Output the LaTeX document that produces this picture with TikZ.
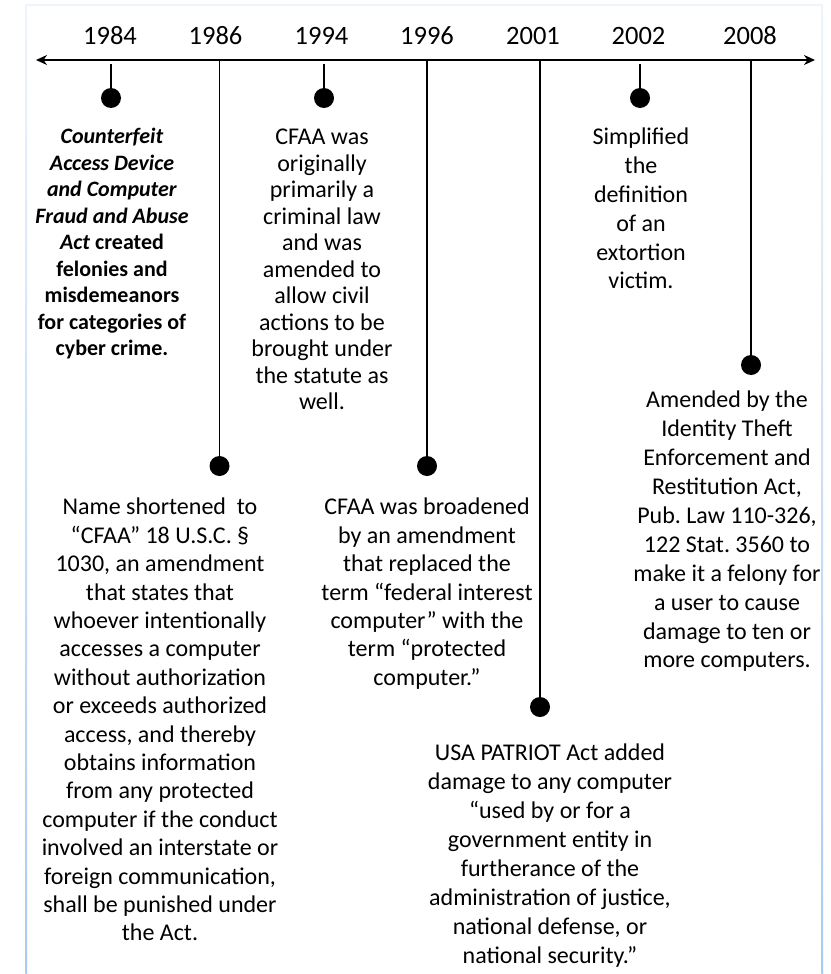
\documentclass[tikz,border=0pt]{standalone}
\usepackage{fontspec}
\setmainfont{Carlito}
\usetikzlibrary{arrows.meta}
\definecolor{framefaint}{HTML}{EEF4FB}
\definecolor{framedeep}{HTML}{A9CAF1}
\frenchspacing
\begin{document}
\begin{tikzpicture}[x=1pt,y=-1pt,
  axisline/.style={line width=1.6pt,
    {Stealth[length=11pt,width=10pt,inset=3.5pt]}-{Stealth[length=11pt,width=10pt,inset=3.5pt]}},
  stem/.style={line width=1.6pt},
  dot/.style={circle,fill=black,inner sep=0pt,minimum size=20pt},
  year/.style={anchor=base,inner sep=0pt,font=\fontsize{26.5}{30}\selectfont},
  note/.style={anchor=north,align=center,inner sep=0pt,font=\fontsize{24}{28.4}\selectfont},
  tightnote/.style={note,font=\fontsize{24}{26.5}\selectfont},
  boldnote/.style={note,font=\fontsize{22}{26.5}\selectfont\bfseries},
]
\useasboundingbox (0,0) rectangle (830,974);

% frame
\fill[framefaint] (26,4.5) rectangle (822,5.7);
\shade[top color=framefaint,bottom color=framedeep] (25.3,4.5) rectangle (27,974);
\shade[top color=framefaint,bottom color=framedeep] (821.3,4.5) rectangle (823,974);

% axis
\coordinate (axL) at (36,60);
\coordinate (axR) at (815,60);
\draw[axisline] (axL) -- (axR);

% years
\node[year] (y1984) at (110,44.5) {1984};
\node[year] (y1986) at (215.5,44.5) {1986};
\node[year] (y1994) at (321.5,44.5) {1994};
\node[year] (y1996) at (427,44.5) {1996};
\node[year] (y2001) at (533,44.5) {2001};
\node[year] (y2002) at (638.5,44.5) {2002};
\node[year] (y2008) at (750,44.5) {2008};

% stems and dots
\coordinate (s1984) at (111,64);
\coordinate (s1986) at (219.5,60);
\coordinate (s1994) at (324,64);
\coordinate (s1996) at (427,60);
\coordinate (s2001) at (540,60);
\coordinate (s2002) at (640,64);
\coordinate (s2008) at (751,60);

\node[dot] (d1984) at (111,98) {};
\node[dot] (d1986) at (219.5,466) {};
\node[dot] (d1994) at (324,98) {};
\node[dot] (d1996) at (427,466) {};
\node[dot] (d2001) at (540,707) {};
\node[dot] (d2002) at (640,98) {};
\node[dot] (d2008) at (751,365) {};

\foreach \yr in {1984,1986,1994,1996,2001,2002,2008}
  \draw[stem] (s\yr) -- (d\yr.center);

% descriptions
\node[boldnote] (t1984) at (112,128) {\textit{Counterfeit}\\\textit{Access Device}\\\textit{and Computer}\\\textit{Fraud and Abuse}\\\textit{Act} created\\felonies and\\misdemeanors\\for categories of\\cyber crime.};

\node[tightnote] (t1994) at (322,129) {CFAA was\\originally\\primarily a\\criminal law\\and was\\amended to\\allow civil\\actions to be\\brought under\\the statute as\\well.};

\node[note,font=\fontsize{24}{28.8}\selectfont] (t2002) at (641,128) {Simplified\\the\\definition\\of an\\extortion\\victim.};

\node[note] (t1986) at (160,498) {Name shortened\ \ to\\“CFAA” 18 U.S.C. §\\1030, an amendment\\that states that\\whoever intentionally\\accesses a computer\\without authorization\\or exceeds authorized\\access, and thereby\\obtains information\\from any protected\\computer if the conduct\\involved an interstate or\\foreign communication,\\shall be punished under\\the Act.};

\node[note] (t1996) at (427,498) {CFAA was broadened\\by an amendment\\that replaced the\\term “federal interest\\computer” with the\\term “protected\\computer.”};

\node[note,font=\fontsize{24}{29}\selectfont] (t2001) at (550,744) {USA PATRIOT Act added\\damage to any computer\\“used by or for a\\government entity in\\furtherance of the\\administration of justice,\\national defense, or\\national security.”};

\node[note,font=\fontsize{24}{28.9}\selectfont] (t2008) at (727,391) {Amended by the\\Identity Theft\\Enforcement and\\Restitution Act,\\Pub. Law 110-326,\\122 Stat. 3560 to\\make it a felony for\\a user to cause\\damage to ten or\\more computers.};
\end{tikzpicture}
\end{document}
